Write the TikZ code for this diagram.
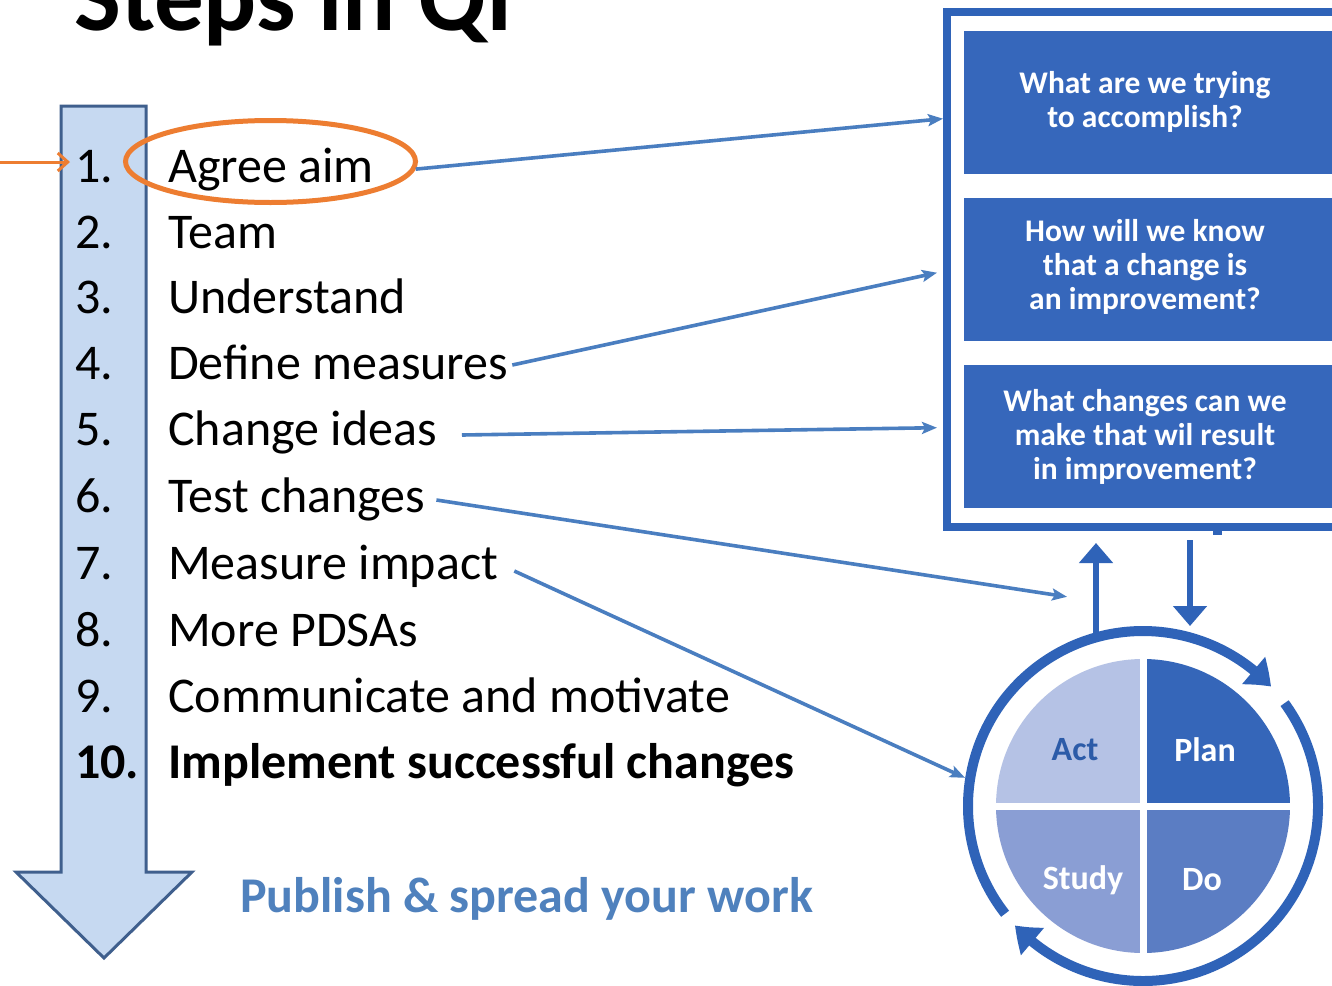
\documentclass[tikz,border=0pt]{standalone}
\usepackage{fontspec}
\setmainfont{Carlito}
\usetikzlibrary{arrows.meta,bending,shapes.geometric,calc}
\definecolor{barfill}{HTML}{C6D9F1}
\definecolor{barline}{HTML}{3F5F8D}
\definecolor{orng}{HTML}{ED7D31}
\definecolor{conn}{HTML}{4A7EC0}
\definecolor{frameC}{HTML}{2F63B8}
\definecolor{boxC}{HTML}{3667BB}
\definecolor{actC}{HTML}{B5C2E5}
\definecolor{planC}{HTML}{3566B9}
\definecolor{studyC}{HTML}{8A9ED4}
\definecolor{doC}{HTML}{5B7DC3}
\definecolor{actText}{HTML}{2C5BA8}
\definecolor{pubC}{HTML}{4F81BD}
\begin{document}
\begin{tikzpicture}[x=1pt,y=-1pt,
  num/.style={anchor=base west, inner sep=0pt, font=\fontsize{50}{56}\selectfont},
  item/.style={num},
  bolditem/.style={num, font=\fontsize{50}{56}\selectfont\bfseries},
  conline/.style={draw=conn, line width=3.6pt, -{Stealth[length=15pt,width=12pt,inset=3pt]}},
  qbox/.style={fill=boxC, draw=none, minimum width=390pt, minimum height=143pt, anchor=north west, inner sep=0pt},
  qtext/.style={text=white, align=center, inner sep=0pt, font=\fontsize{31.5}{34}\selectfont\bfseries},
  ringarc/.style={draw=frameC, line width=10pt},
  ringtip/.style={-{Triangle[width=34pt,length=24pt,bend]}},
  vert/.style={draw=frameC, line width=6pt, -{Triangle[width=33pt,length=20pt]}},
  pdsa/.style={font=\fontsize{34}{40}\selectfont\bfseries, inner sep=0pt}
]
\useasboundingbox (0,0) rectangle (1332,985);
\clip (0,0) rectangle (1332,985);
\fill[white] (0,0) rectangle (1332,985);

% title
\node[anchor=base west, inner sep=0pt, font=\fontsize{99}{110}\selectfont\bfseries] (title) at (74,30) {Steps in QI};

% big down arrow
\draw[barline, fill=barfill, line width=3pt, line join=miter]
  (61,106) -- (146,106) -- (146,872) -- (192,872) -- (104,958) -- (16,872) -- (61,872) -- cycle;

% list
\foreach \i/\y/\txt in {1/182/Agree aim, 2/248/Team, 3/313/Understand, 4/379/Define measures,
  5/445/Change ideas, 6/512/Test changes, 7/579/Measure impact, 8/646/More PDSAs,
  9/712/Communicate and motivate} {
  \node[num] (n\i) at (75,\y) {\i.};
  \node[item] (t\i) at (168,\y) {\txt};
}
\node[bolditem] (n10) at (75,778) {10.};
\node[bolditem] (t10) at (168,778) {Implement successful changes};

\node[anchor=base west, inner sep=0pt, text=pubC, font=\fontsize{50}{56}\selectfont\bfseries] (pub) at (240,912) {Publish \& spread your work};

% orange ellipse and arrow
\node[draw=orng, line width=5pt, ellipse, minimum width=290pt, minimum height=82pt, inner sep=0pt] (ell) at (270.5,161.5) {};
\coordinate (orstart) at (0,162);
\draw[orng, line width=3pt, -{Straight Barb[length=10pt,width=18pt]}] (orstart) -- ($(n1.base west)+(-5,-20)$);

% question frame
\draw[frameC, line width=8pt] (947,12) rectangle (1370,527);
\fill[frameC] (1213,527) rectangle (1222,535);
\node[qbox] (b1) at (964,31) {};
\node[qbox] (b2) at (964,198) {};
\node[qbox] (b3) at (964,365) {};
\node[qtext] (q1) at (1145,102) {What are we trying\\to accomplish?};
\node[qtext] (q2) at (1145,267) {How will we know\\that a change is\\an improvement?};
\node[qtext] (q3) at (1145,437) {What changes can we\\make that wil result\\in improvement?};

% PDSA circle
\node[circle, minimum size=360pt, inner sep=0pt] (ring) at (1143,806) {};
\fill[actC] (ring.center) -- ++(0,-147) arc[start angle=-90, end angle=-180, radius=147] -- cycle;
\fill[planC] (ring.center) -- ++(0,-147) arc[start angle=-90, end angle=0, radius=147] -- cycle;
\fill[doC] (ring.center) -- ++(147,0) arc[start angle=0, end angle=90, radius=147] -- cycle;
\fill[studyC] (ring.center) -- ++(0,147) arc[start angle=90, end angle=180, radius=147] -- cycle;
\draw[white, line width=7pt] ($(ring.center)+(0,-150)$) -- ($(ring.center)+(0,150)$);
\draw[white, line width=7pt] ($(ring.center)+(-150,0)$) -- ($(ring.center)+(150,0)$);
\node[pdsa, text=actText] (act) at (1075,750) {Act};
\node[pdsa, text=white] (plan) at (1205,750) {Plan};
\node[pdsa, text=white] (study) at (1083,880) {Study};
\node[pdsa, text=white] (do) at (1202,880) {Do};

\draw[ringarc, ringtip] ($(ring.center)+(-218:175)$) arc[start angle=-218, end angle=-43, radius=175];
\draw[ringarc, ringtip] ($(ring.center)+(-36:175)$) arc[start angle=-36, end angle=137, radius=175];

% vertical arrows
\coordinate (upfoot) at (1096,636);
\coordinate (uptip) at (1096,543);
\coordinate (dntop) at (1190,540);
\coordinate (dntip) at (1190,626);
\draw[vert] (upfoot) -- (uptip);
\draw[vert] (dntop) -- (dntip);

% connectors
\draw[conline] (ell.-3) -- ($(b1.west)+(-21,16)$);
\draw[conline] ($(t4.base east)+(4,-14)$) -- ($(b2.west)+(-27,3)$);
\draw[conline] ($(t5.base east)+(25,-10)$) -- ($(b3.west)+(-27,-9)$);
\draw[conline] ($(t6.base east)+(11,-12)$) -- ($(ring.north)+(-76,-29)$);
\draw[conline] ($(t7.base east)+(16,-8)$) -- (ring.171);
\end{tikzpicture}
\end{document}
